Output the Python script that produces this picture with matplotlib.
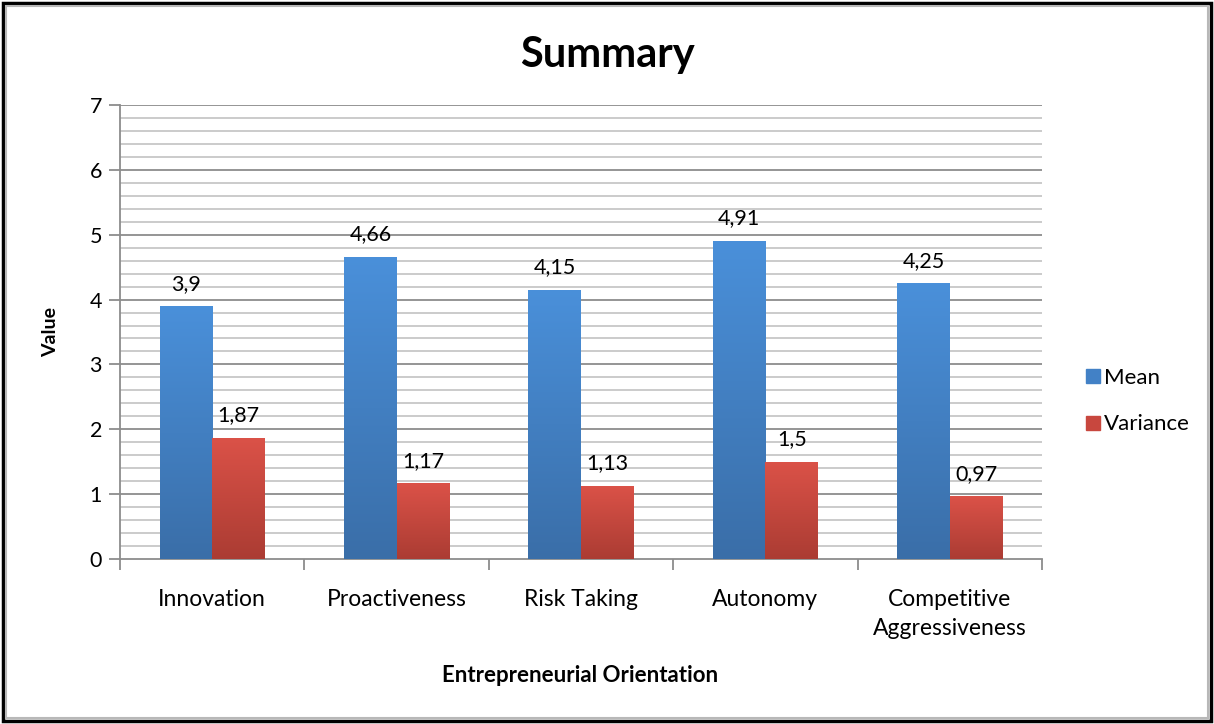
import numpy as np
import matplotlib
matplotlib.use("Agg")
import matplotlib.pyplot as plt
from matplotlib.colors import LinearSegmentedColormap
from matplotlib.patches import Rectangle
from matplotlib.lines import Line2D

plt.rcParams['font.family'] = ['Lato', 'DejaVu Sans']

categories = ["Innovation", "Proactiveness", "Risk Taking", "Autonomy", "Competitive\nAggressiveness"]
mean_values = [3.9, 4.66, 4.15, 4.91, 4.25]
variance_values = [1.87, 1.17, 1.13, 1.5, 0.97]
series_names = ["Mean", "Variance"]

fig = plt.figure(figsize=(12.14, 7.24), dpi=100)
ax = fig.add_axes([120 / 1214, 1 - 559 / 724, 922 / 1214, 454 / 724])

# Frame around the whole figure
fig.add_artist(Rectangle((3 / 1214, 3 / 724), 1 - 6 / 1214, 1 - 6 / 724, transform=fig.transFigure,
                         fill=False, edgecolor="black", linewidth=2.5))
fig.add_artist(Rectangle((6 / 1214, 6 / 724), 1 - 12 / 1214, 1 - 12 / 724, transform=fig.transFigure,
                         fill=False, edgecolor="#b8b8b8", linewidth=1.5))

x = np.arange(len(categories))
w = 0.285

# Grid: minor every 0.2, major every 1
for yv in np.arange(0.2, 7.01, 0.2):
    major = abs(yv - round(yv)) < 1e-6
    ax.axhline(yv, color="#8c8c8c" if major else "#bdbdbd", lw=1.3 if major else 1.1, zorder=0)

blue_cmap = LinearSegmentedColormap.from_list("b", ["#3a6ea8", "#4a90da"])
red_cmap = LinearSegmentedColormap.from_list("r", ["#ab3c33", "#db5248"])

grad = np.linspace(0, 1, 256).reshape(-1, 1)


def gradient_bars(xs, vals, cmap, flat):
    bars = ax.bar(xs, vals, w, color=flat, zorder=2, edgecolor="none")
    for b in bars:
        x0, y0 = b.get_x(), b.get_y()
        im = ax.imshow(grad, cmap=cmap, origin="lower", aspect="auto",
                       extent=(x0, x0 + b.get_width(), y0, y0 + b.get_height()), zorder=3)
        im.set_clip_path(b)
    return bars


gradient_bars(x - w / 2, mean_values, blue_cmap, "#4281c6")
gradient_bars(x + w / 2, variance_values, red_cmap, "#c8473e")
ax.set_xlim(-0.5, len(categories) - 0.5)
ax.set_ylim(0, 7)

for xi, v in zip(x - w / 2, mean_values):
    ax.text(xi, v + 0.19, f"{v:g}".replace(".", ","), ha="center", va="bottom", fontsize=15.5, color="black")
for xi, v in zip(x + w / 2, variance_values):
    ax.text(xi, v + 0.19, f"{v:g}".replace(".", ","), ha="center", va="bottom", fontsize=15.5, color="black")

# Axes styling
for s in ["top", "right"]:
    ax.spines[s].set_visible(False)
for s in ["left", "bottom"]:
    ax.spines[s].set_color("#8c8c8c")
    ax.spines[s].set_linewidth(1.3)

ax.set_yticks(range(0, 8))
ax.tick_params(axis="y", length=8, width=1.3, color="#8c8c8c", labelsize=15.5, pad=5)
ax.set_xticks(np.arange(-0.5, len(categories) + 0.5, 1.0))
ax.set_xticklabels([])
ax.tick_params(axis="x", length=8, width=1.3, color="#8c8c8c")
for xi, c in zip(x, categories):
    ax.text(xi, -0.47, c, ha="center", va="top", fontsize=16.5, linespacing=1.45)

ax.set_ylabel("Value", fontsize=14, fontweight="bold", labelpad=22)
fig.text(580 / 1214, 1 - 676 / 724, "Entrepreneurial Orientation", ha="center", va="center",
         fontsize=16, fontweight="bold")
fig.text(607 / 1214, 1 - 55 / 724, "Summary", ha="center", va="center", fontsize=30, fontweight="bold")

handles = [Line2D([], [], marker="s", linestyle="none", markersize=10, markerfacecolor="#4281c6",
                  markeredgecolor="#4281c6"),
           Line2D([], [], marker="s", linestyle="none", markersize=10, markerfacecolor="#c8473e",
                  markeredgecolor="#c8473e")]
fig.legend(handles, series_names, loc="center left", bbox_to_anchor=(1064 / 1214, 1 - 401 / 724),
           frameon=False, fontsize=16, handlelength=0.8, handletextpad=0.1, labelspacing=1.2)

fig.savefig("out.png", dpi=100)
